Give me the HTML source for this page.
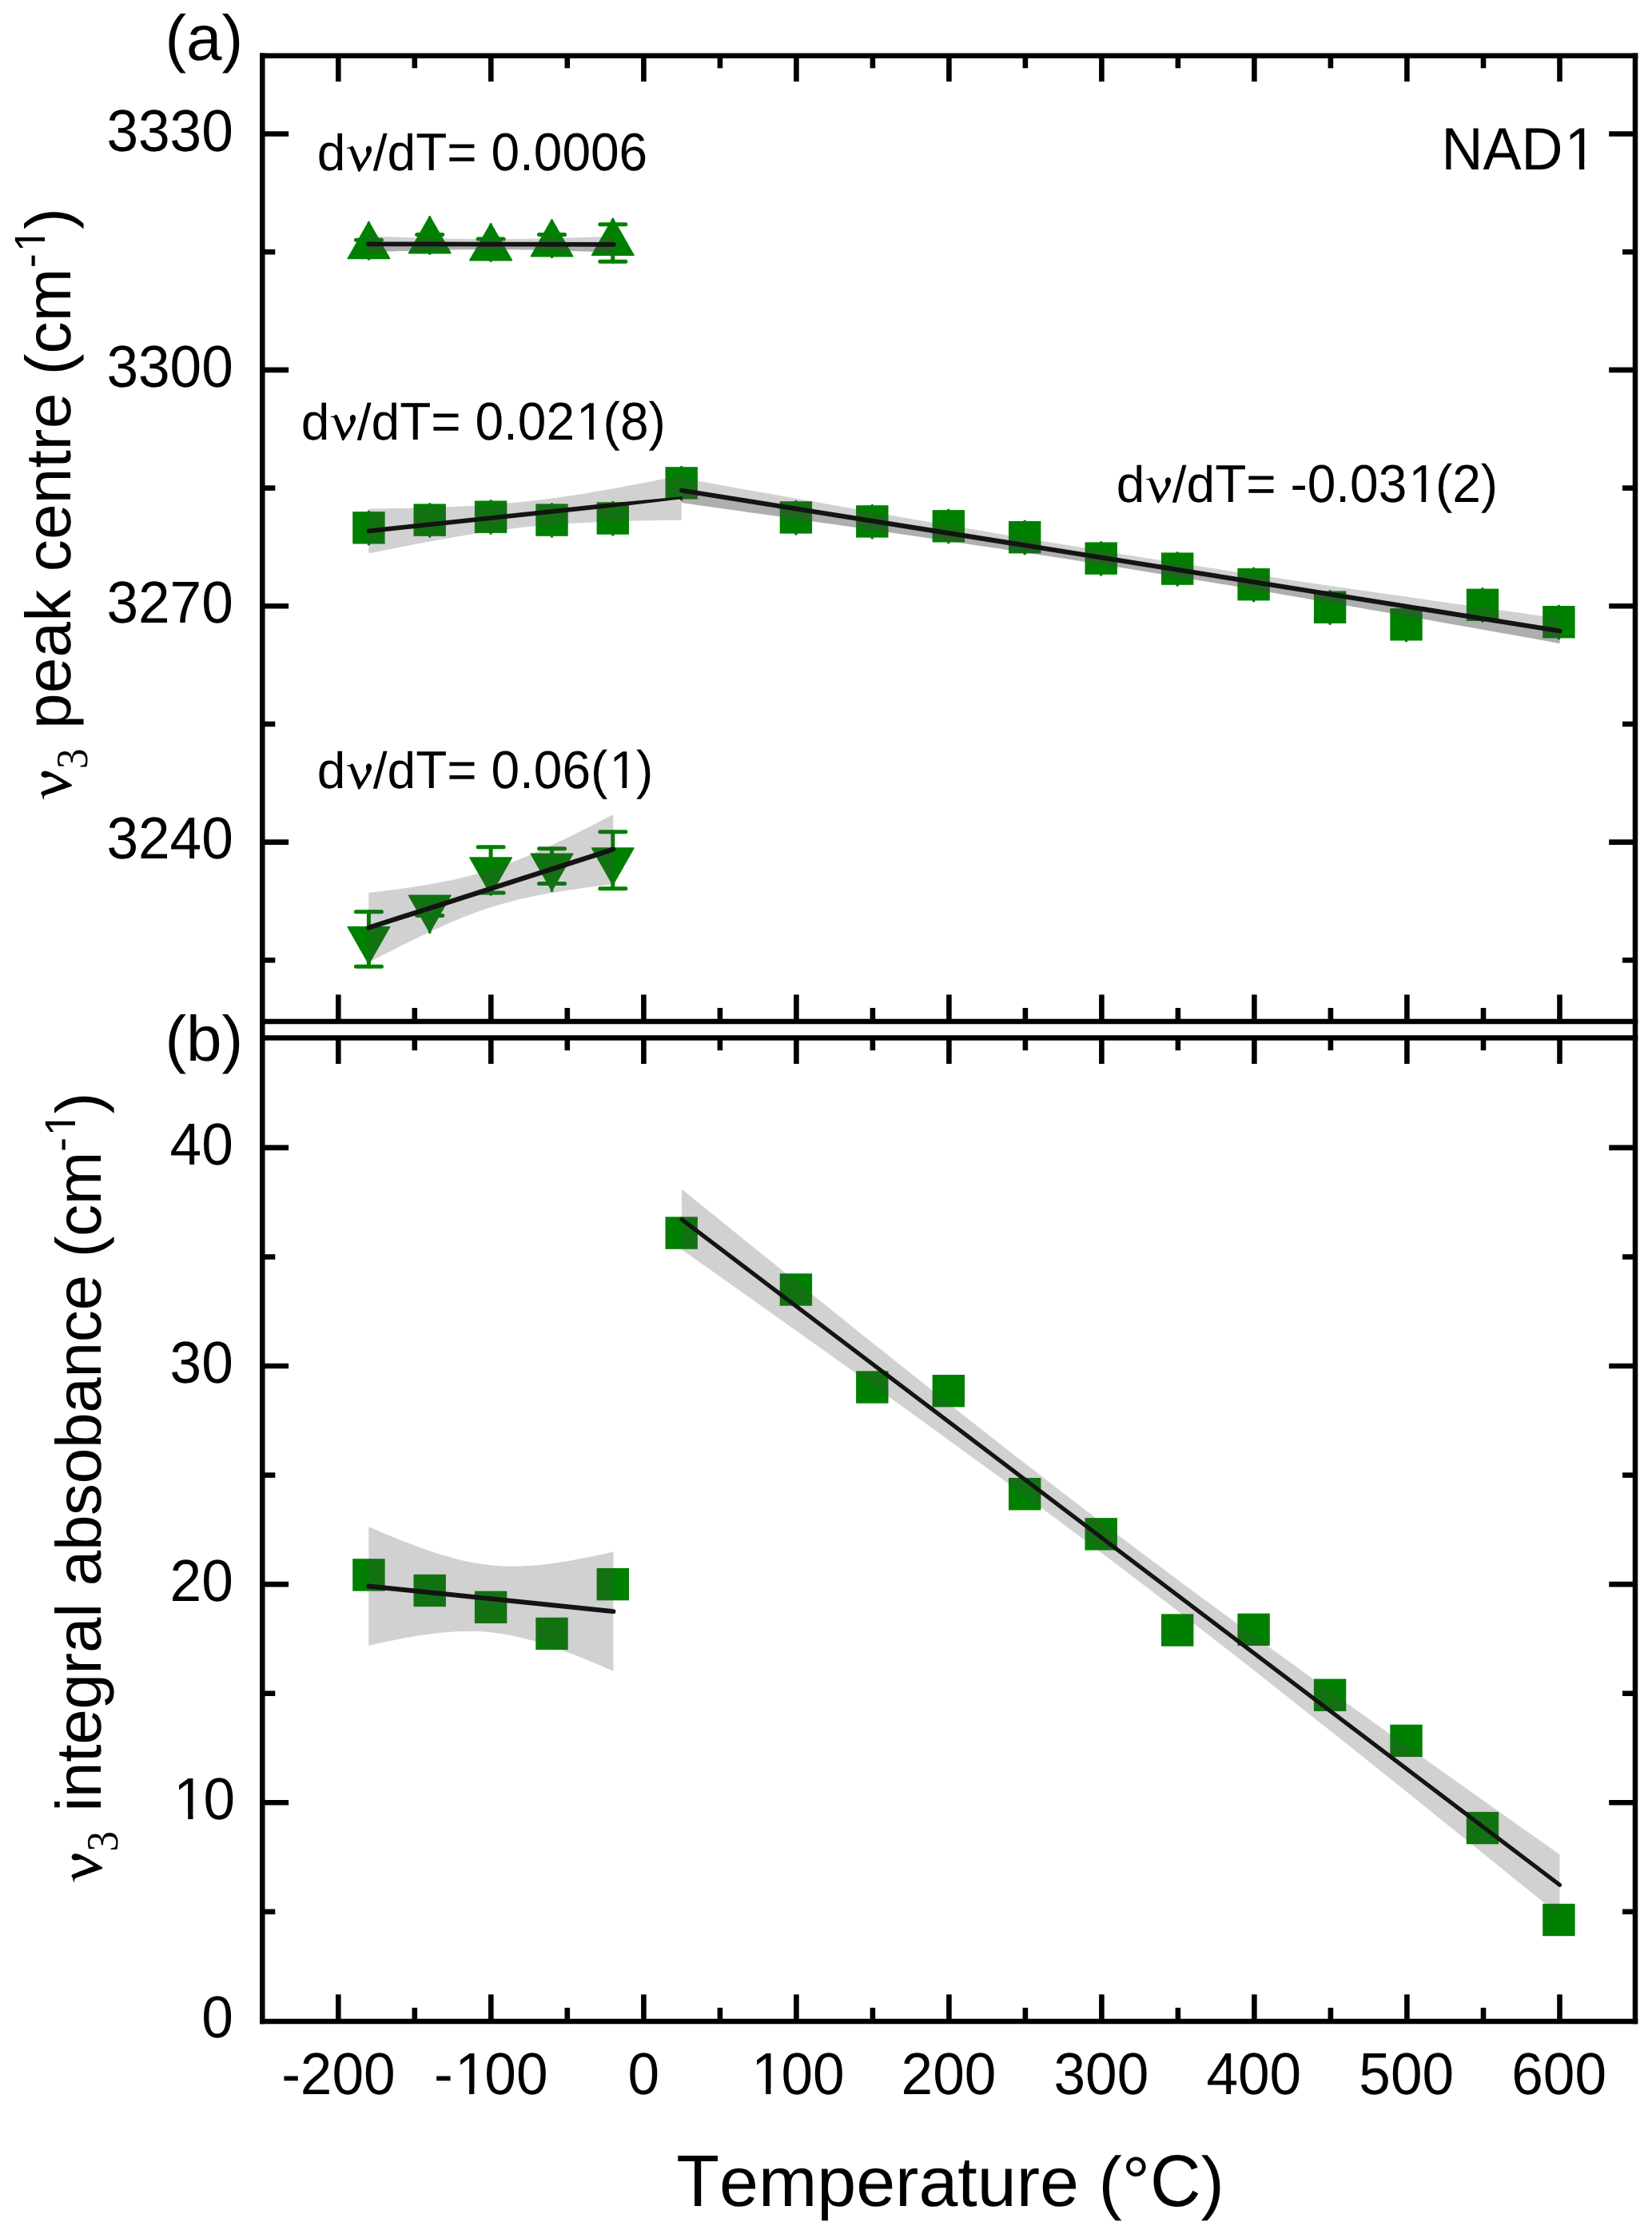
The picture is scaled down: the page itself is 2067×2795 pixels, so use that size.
<!DOCTYPE html>
<html><head><meta charset="utf-8"><title>NAD1</title>
<style>html,body{margin:0;padding:0;background:#fff}body{width:2067px;height:2795px;overflow:hidden;font-family:"Liberation Sans",sans-serif}</style></head>
<body>
<svg width="2067" height="2795" viewBox="0 0 2067 2795" style="display:block">
<rect x="0" y="0" width="2067" height="2795" fill="#ffffff"/>
<g id="markersA">
<g stroke="#008000" stroke-width="5.0" stroke-linecap="round" fill="none"><line x1="461.4" y1="300.3" x2="461.4" y2="315.9"/><line x1="445.4" y1="300.3" x2="477.4" y2="300.3"/><line x1="445.4" y1="315.9" x2="477.4" y2="315.9"/></g>
<line x1="461.4" y1="278.9" x2="461.4" y2="324.1" stroke="#008000" stroke-width="3.6" stroke-linecap="round"/>
<polygon points="461.4,277.3 487.7,323.5 435.1,323.5" fill="#008000" stroke="#008000" stroke-width="1.4" stroke-linejoin="round"/>
<g stroke="#008000" stroke-width="5.0" stroke-linecap="round" fill="none"><line x1="537.7" y1="293.5" x2="537.7" y2="309.1"/><line x1="521.7" y1="293.5" x2="553.7" y2="293.5"/><line x1="521.7" y1="309.1" x2="553.7" y2="309.1"/></g>
<line x1="537.7" y1="272.1" x2="537.7" y2="317.3" stroke="#008000" stroke-width="3.6" stroke-linecap="round"/>
<polygon points="537.7,270.5 564.0,316.7 511.4,316.7" fill="#008000" stroke="#008000" stroke-width="1.4" stroke-linejoin="round"/>
<g stroke="#008000" stroke-width="5.0" stroke-linecap="round" fill="none"><line x1="614.1" y1="299.0" x2="614.1" y2="321.6"/><line x1="598.1" y1="299.0" x2="630.1" y2="299.0"/><line x1="598.1" y1="321.6" x2="630.1" y2="321.6"/></g>
<line x1="614.1" y1="281.1" x2="614.1" y2="326.3" stroke="#008000" stroke-width="3.6" stroke-linecap="round"/>
<polygon points="614.1,279.5 640.4,325.7 587.8,325.7" fill="#008000" stroke="#008000" stroke-width="1.4" stroke-linejoin="round"/>
<g stroke="#008000" stroke-width="5.0" stroke-linecap="round" fill="none"><line x1="690.5" y1="293.5" x2="690.5" y2="317.3"/><line x1="674.5" y1="293.5" x2="706.5" y2="293.5"/><line x1="674.5" y1="317.3" x2="706.5" y2="317.3"/></g>
<line x1="690.5" y1="276.2" x2="690.5" y2="321.4" stroke="#008000" stroke-width="3.6" stroke-linecap="round"/>
<polygon points="690.5,274.6 716.8,320.8 664.2,320.8" fill="#008000" stroke="#008000" stroke-width="1.4" stroke-linejoin="round"/>
<g stroke="#008000" stroke-width="5.0" stroke-linecap="round" fill="none"><line x1="766.8" y1="280.7" x2="766.8" y2="327.3"/><line x1="750.8" y1="280.7" x2="782.8" y2="280.7"/><line x1="750.8" y1="327.3" x2="782.8" y2="327.3"/></g>
<line x1="766.8" y1="274.8" x2="766.8" y2="320.0" stroke="#008000" stroke-width="3.6" stroke-linecap="round"/>
<polygon points="766.8,273.2 793.1,319.4 740.5,319.4" fill="#008000" stroke="#008000" stroke-width="1.4" stroke-linejoin="round"/>
<line x1="461.4" y1="640.4" x2="461.4" y2="680.8" stroke="#008000" stroke-width="3.6" stroke-linecap="round"/>
<rect x="441.2" y="640.1" width="40.4" height="40.4" fill="#008000"/>
<line x1="537.7" y1="630.7" x2="537.7" y2="671.1" stroke="#008000" stroke-width="3.6" stroke-linecap="round"/>
<rect x="517.5" y="630.4" width="40.4" height="40.4" fill="#008000"/>
<line x1="614.1" y1="626.8" x2="614.1" y2="667.2" stroke="#008000" stroke-width="3.6" stroke-linecap="round"/>
<rect x="593.9" y="626.5" width="40.4" height="40.4" fill="#008000"/>
<line x1="690.5" y1="630.7" x2="690.5" y2="671.1" stroke="#008000" stroke-width="3.6" stroke-linecap="round"/>
<rect x="670.3" y="630.4" width="40.4" height="40.4" fill="#008000"/>
<line x1="766.8" y1="628.6" x2="766.8" y2="669.0" stroke="#008000" stroke-width="3.6" stroke-linecap="round"/>
<rect x="746.6" y="628.3" width="40.4" height="40.4" fill="#008000"/>
<line x1="852.7" y1="584.5" x2="852.7" y2="624.9" stroke="#008000" stroke-width="3.6" stroke-linecap="round"/>
<rect x="832.5" y="584.2" width="40.4" height="40.4" fill="#008000"/>
<line x1="995.9" y1="627.5" x2="995.9" y2="667.9" stroke="#008000" stroke-width="3.6" stroke-linecap="round"/>
<rect x="975.7" y="627.2" width="40.4" height="40.4" fill="#008000"/>
<line x1="1091.3" y1="632.5" x2="1091.3" y2="672.9" stroke="#008000" stroke-width="3.6" stroke-linecap="round"/>
<rect x="1071.1" y="632.2" width="40.4" height="40.4" fill="#008000"/>
<line x1="1186.8" y1="638.4" x2="1186.8" y2="678.8" stroke="#008000" stroke-width="3.6" stroke-linecap="round"/>
<rect x="1166.6" y="638.1" width="40.4" height="40.4" fill="#008000"/>
<line x1="1282.2" y1="652.3" x2="1282.2" y2="692.7" stroke="#008000" stroke-width="3.6" stroke-linecap="round"/>
<rect x="1262.0" y="652.0" width="40.4" height="40.4" fill="#008000"/>
<line x1="1377.7" y1="678.7" x2="1377.7" y2="719.1" stroke="#008000" stroke-width="3.6" stroke-linecap="round"/>
<rect x="1357.5" y="678.4" width="40.4" height="40.4" fill="#008000"/>
<line x1="1473.2" y1="691.7" x2="1473.2" y2="732.1" stroke="#008000" stroke-width="3.6" stroke-linecap="round"/>
<rect x="1453.0" y="691.4" width="40.4" height="40.4" fill="#008000"/>
<line x1="1568.6" y1="711.3" x2="1568.6" y2="751.7" stroke="#008000" stroke-width="3.6" stroke-linecap="round"/>
<rect x="1548.4" y="711.0" width="40.4" height="40.4" fill="#008000"/>
<line x1="1664.1" y1="739.8" x2="1664.1" y2="780.2" stroke="#008000" stroke-width="3.6" stroke-linecap="round"/>
<rect x="1643.9" y="739.5" width="40.4" height="40.4" fill="#008000"/>
<line x1="1759.5" y1="761.4" x2="1759.5" y2="801.8" stroke="#008000" stroke-width="3.6" stroke-linecap="round"/>
<rect x="1739.3" y="761.1" width="40.4" height="40.4" fill="#008000"/>
<line x1="1855.0" y1="736.9" x2="1855.0" y2="777.3" stroke="#008000" stroke-width="3.6" stroke-linecap="round"/>
<rect x="1834.8" y="736.6" width="40.4" height="40.4" fill="#008000"/>
<line x1="1950.4" y1="758.3" x2="1950.4" y2="798.7" stroke="#008000" stroke-width="3.6" stroke-linecap="round"/>
<rect x="1930.2" y="758.0" width="40.4" height="40.4" fill="#008000"/>
<g stroke="#008000" stroke-width="5.0" stroke-linecap="round" fill="none"><line x1="461.4" y1="1140.8" x2="461.4" y2="1209.2"/><line x1="445.4" y1="1140.8" x2="477.4" y2="1140.8"/><line x1="445.4" y1="1209.2" x2="477.4" y2="1209.2"/></g>
<line x1="461.4" y1="1163.6" x2="461.4" y2="1205.8" stroke="#008000" stroke-width="3.6" stroke-linecap="round"/>
<polygon points="435.1,1159.6 487.7,1159.6 461.4,1205.8" fill="#008000" stroke="#008000" stroke-width="1.4" stroke-linejoin="round"/>
<g stroke="#008000" stroke-width="5.0" stroke-linecap="round" fill="none"><line x1="537.7" y1="1125.6" x2="537.7" y2="1145.6"/><line x1="521.7" y1="1125.6" x2="553.7" y2="1125.6"/><line x1="521.7" y1="1145.6" x2="553.7" y2="1145.6"/></g>
<line x1="537.7" y1="1124.2" x2="537.7" y2="1166.4" stroke="#008000" stroke-width="3.6" stroke-linecap="round"/>
<polygon points="511.4,1120.2 564.0,1120.2 537.7,1166.4" fill="#008000" stroke="#008000" stroke-width="1.4" stroke-linejoin="round"/>
<g stroke="#008000" stroke-width="5.0" stroke-linecap="round" fill="none"><line x1="614.1" y1="1059.7" x2="614.1" y2="1116.9"/><line x1="598.1" y1="1059.7" x2="630.1" y2="1059.7"/><line x1="598.1" y1="1116.9" x2="630.1" y2="1116.9"/></g>
<line x1="614.1" y1="1076.9" x2="614.1" y2="1119.1" stroke="#008000" stroke-width="3.6" stroke-linecap="round"/>
<polygon points="587.8,1072.9 640.4,1072.9 614.1,1119.1" fill="#008000" stroke="#008000" stroke-width="1.4" stroke-linejoin="round"/>
<g stroke="#008000" stroke-width="5.0" stroke-linecap="round" fill="none"><line x1="690.5" y1="1061.8" x2="690.5" y2="1105.4"/><line x1="674.5" y1="1061.8" x2="706.5" y2="1061.8"/><line x1="674.5" y1="1105.4" x2="706.5" y2="1105.4"/></g>
<line x1="690.5" y1="1072.2" x2="690.5" y2="1114.4" stroke="#008000" stroke-width="3.6" stroke-linecap="round"/>
<polygon points="664.2,1068.2 716.8,1068.2 690.5,1114.4" fill="#008000" stroke="#008000" stroke-width="1.4" stroke-linejoin="round"/>
<g stroke="#008000" stroke-width="5.0" stroke-linecap="round" fill="none"><line x1="766.8" y1="1040.8" x2="766.8" y2="1111.8"/><line x1="750.8" y1="1040.8" x2="782.8" y2="1040.8"/><line x1="750.8" y1="1111.8" x2="782.8" y2="1111.8"/></g>
<line x1="766.8" y1="1064.9" x2="766.8" y2="1107.1" stroke="#008000" stroke-width="3.6" stroke-linecap="round"/>
<polygon points="740.5,1060.9 793.1,1060.9 766.8,1107.1" fill="#008000" stroke="#008000" stroke-width="1.4" stroke-linejoin="round"/>
</g>
<g id="markersB">
<rect x="441.2" y="1950.2" width="40.4" height="40.4" fill="#008000"/>
<rect x="517.5" y="1969.8" width="40.4" height="40.4" fill="#008000"/>
<rect x="593.9" y="1990.6" width="40.4" height="40.4" fill="#008000"/>
<rect x="670.3" y="2023.7" width="40.4" height="40.4" fill="#008000"/>
<rect x="746.6" y="1961.9" width="40.4" height="40.4" fill="#008000"/>
<rect x="832.5" y="1522.4" width="40.4" height="40.4" fill="#008000"/>
<rect x="975.7" y="1593.3" width="40.4" height="40.4" fill="#008000"/>
<rect x="1071.1" y="1715.3" width="40.4" height="40.4" fill="#008000"/>
<rect x="1166.6" y="1720.0" width="40.4" height="40.4" fill="#008000"/>
<rect x="1262.0" y="1849.0" width="40.4" height="40.4" fill="#008000"/>
<rect x="1357.5" y="1899.1" width="40.4" height="40.4" fill="#008000"/>
<rect x="1453.0" y="2019.3" width="40.4" height="40.4" fill="#008000"/>
<rect x="1548.4" y="2018.6" width="40.4" height="40.4" fill="#008000"/>
<rect x="1643.9" y="2100.5" width="40.4" height="40.4" fill="#008000"/>
<rect x="1739.3" y="2157.7" width="40.4" height="40.4" fill="#008000"/>
<rect x="1834.8" y="2266.9" width="40.4" height="40.4" fill="#008000"/>
<rect x="1930.2" y="2381.8" width="40.4" height="40.4" fill="#008000"/>
</g>
<g id="bands">
<polygon points="461.0,295.4 468.7,295.7 476.4,296.0 484.0,296.2 491.7,296.5 499.4,296.8 507.1,297.0 514.7,297.3 522.4,297.5 530.1,297.8 537.8,298.0 545.4,298.2 553.1,298.3 560.8,298.5 568.5,298.7 576.1,298.8 583.8,298.9 591.5,299.0 599.1,299.0 606.8,299.1 614.5,299.1 622.2,299.1 629.9,299.1 637.5,299.0 645.2,299.0 652.9,298.9 660.5,298.8 668.2,298.6 675.9,298.5 683.6,298.3 691.2,298.1 698.9,297.9 706.6,297.7 714.3,297.5 722.0,297.3 729.6,297.1 737.3,296.8 745.0,296.5 752.6,296.3 760.3,296.0 768.0,295.7 768.0,315.9 760.3,315.6 752.6,315.3 745.0,315.0 737.3,314.7 729.6,314.4 722.0,314.2 714.3,313.9 706.6,313.7 698.9,313.5 691.2,313.3 683.6,313.1 675.9,312.9 668.2,312.7 660.5,312.6 652.9,312.4 645.2,312.3 637.5,312.2 629.9,312.2 622.2,312.1 614.5,312.1 606.8,312.1 599.1,312.1 591.5,312.2 583.8,312.2 576.1,312.3 568.5,312.4 560.8,312.6 553.1,312.7 545.4,312.9 537.8,313.0 530.1,313.2 522.4,313.4 514.7,313.6 507.1,313.9 499.4,314.1 491.7,314.4 484.0,314.6 476.4,314.9 468.7,315.2 461.0,315.4" fill="rgba(70,70,70,0.25)"/>
<polygon points="461.0,305.4 468.7,305.4 476.4,305.4 484.0,305.4 491.7,305.4 499.4,305.4 507.1,305.5 514.7,305.5 522.4,305.5 530.1,305.5 537.8,305.5 545.4,305.5 553.1,305.5 560.8,305.5 568.5,305.5 576.1,305.6 583.8,305.6 591.5,305.6 599.1,305.6 606.8,305.6 614.5,305.6 622.2,305.6 629.9,305.6 637.5,305.6 645.2,305.6 652.9,305.6 660.5,305.7 668.2,305.7 675.9,305.7 683.6,305.7 691.2,305.7 698.9,305.7 706.6,305.7 714.3,305.7 722.0,305.7 729.6,305.8 737.3,305.8 745.0,305.8 752.6,305.8 760.3,305.8 768.0,305.8 768.0,315.9 760.3,315.6 752.6,315.3 745.0,315.0 737.3,314.7 729.6,314.4 722.0,314.2 714.3,313.9 706.6,313.7 698.9,313.5 691.2,313.3 683.6,313.1 675.9,312.9 668.2,312.7 660.5,312.6 652.9,312.4 645.2,312.3 637.5,312.2 629.9,312.2 622.2,312.1 614.5,312.1 606.8,312.1 599.1,312.1 591.5,312.2 583.8,312.2 576.1,312.3 568.5,312.4 560.8,312.6 553.1,312.7 545.4,312.9 537.8,313.0 530.1,313.2 522.4,313.4 514.7,313.6 507.1,313.9 499.4,314.1 491.7,314.4 484.0,314.6 476.4,314.9 468.7,315.2 461.0,315.4" fill="rgba(70,70,70,0.25)"/>
<polygon points="461.3,636.4 471.1,636.3 480.9,636.2 490.7,636.1 500.4,635.9 510.2,635.7 520.0,635.5 529.8,635.2 539.6,635.0 549.4,634.6 559.1,634.3 568.9,633.9 578.7,633.4 588.5,632.9 598.3,632.4 608.1,631.8 617.9,631.1 627.6,630.3 637.4,629.5 647.2,628.6 657.0,627.6 666.8,626.5 676.6,625.3 686.4,624.1 696.1,622.7 705.9,621.3 715.7,619.9 725.5,618.4 735.3,616.8 745.1,615.1 754.9,613.4 764.6,611.7 774.4,609.9 784.2,608.1 794.0,606.3 803.8,604.4 813.6,602.5 823.3,600.6 833.1,598.7 842.9,596.7 852.7,594.7 852.7,650.7 842.9,650.8 833.1,650.9 823.3,651.0 813.6,651.2 803.8,651.4 794.0,651.6 784.2,651.9 774.4,652.1 764.6,652.5 754.9,652.8 745.1,653.2 735.3,653.7 725.5,654.2 715.7,654.7 705.9,655.3 696.1,656.0 686.4,656.8 676.6,657.6 666.8,658.5 657.0,659.6 647.2,660.6 637.4,661.8 627.6,663.0 617.9,664.4 608.1,665.8 598.3,667.2 588.5,668.7 578.7,670.3 568.9,672.0 559.1,673.7 549.4,675.4 539.6,677.2 529.8,679.0 520.0,680.8 510.2,682.7 500.4,684.6 490.7,686.5 480.9,688.4 471.1,690.4 461.3,692.4" fill="rgba(70,70,70,0.25)"/>
<polygon points="853.0,598.1 880.5,603.0 907.9,608.0 935.4,612.9 962.9,617.8 990.3,622.7 1017.8,627.5 1045.2,632.4 1072.7,637.3 1100.2,642.1 1127.6,646.9 1155.1,651.7 1182.5,656.4 1210.0,661.1 1237.5,665.8 1264.9,670.4 1292.4,675.0 1319.9,679.6 1347.3,684.1 1374.8,688.6 1402.2,693.0 1429.7,697.4 1457.2,701.7 1484.6,706.0 1512.1,710.2 1539.6,714.4 1567.0,718.5 1594.5,722.6 1622.0,726.7 1649.4,730.7 1676.9,734.7 1704.3,738.7 1731.8,742.7 1759.3,746.6 1786.7,750.5 1814.2,754.4 1841.7,758.3 1869.1,762.2 1896.6,766.1 1924.0,770.0 1951.5,773.8 1951.5,805.0 1924.0,800.1 1896.6,795.1 1869.1,790.2 1841.7,785.3 1814.2,780.4 1786.7,775.5 1759.3,770.7 1731.8,765.8 1704.3,761.0 1676.9,756.2 1649.4,751.4 1622.0,746.7 1594.5,741.9 1567.0,737.2 1539.6,732.6 1512.1,728.0 1484.6,723.4 1457.2,718.9 1429.7,714.4 1402.2,710.0 1374.8,705.6 1347.3,701.3 1319.9,697.0 1292.4,692.8 1264.9,688.6 1237.5,684.5 1210.0,680.4 1182.5,676.3 1155.1,672.2 1127.6,668.2 1100.2,664.2 1072.7,660.3 1045.2,656.3 1017.8,652.4 990.3,648.5 962.9,644.6 935.4,640.7 907.9,636.8 880.5,633.0 853.0,629.1" fill="rgba(70,70,70,0.25)"/>
<polygon points="853.0,613.6 880.5,618.0 907.9,622.4 935.4,626.8 962.9,631.2 990.3,635.6 1017.8,640.0 1045.2,644.4 1072.7,648.8 1100.2,653.2 1127.6,657.5 1155.1,661.9 1182.5,666.3 1210.0,670.7 1237.5,675.1 1264.9,679.5 1292.4,683.9 1319.9,688.3 1347.3,692.7 1374.8,697.1 1402.2,701.5 1429.7,705.9 1457.2,710.3 1484.6,714.7 1512.1,719.1 1539.6,723.5 1567.0,727.9 1594.5,732.3 1622.0,736.7 1649.4,741.1 1676.9,745.5 1704.3,749.8 1731.8,754.2 1759.3,758.6 1786.7,763.0 1814.2,767.4 1841.7,771.8 1869.1,776.2 1896.6,780.6 1924.0,785.0 1951.5,789.4 1951.5,805.0 1924.0,800.1 1896.6,795.1 1869.1,790.2 1841.7,785.3 1814.2,780.4 1786.7,775.5 1759.3,770.7 1731.8,765.8 1704.3,761.0 1676.9,756.2 1649.4,751.4 1622.0,746.7 1594.5,741.9 1567.0,737.2 1539.6,732.6 1512.1,728.0 1484.6,723.4 1457.2,718.9 1429.7,714.4 1402.2,710.0 1374.8,705.6 1347.3,701.3 1319.9,697.0 1292.4,692.8 1264.9,688.6 1237.5,684.5 1210.0,680.4 1182.5,676.3 1155.1,672.2 1127.6,668.2 1100.2,664.2 1072.7,660.3 1045.2,656.3 1017.8,652.4 990.3,648.5 962.9,644.6 935.4,640.7 907.9,636.8 880.5,633.0 853.0,629.1" fill="rgba(70,70,70,0.25)"/>
<polygon points="461.3,1117.1 468.9,1116.1 476.6,1115.2 484.2,1114.2 491.9,1113.2 499.6,1112.2 507.2,1111.1 514.9,1110.0 522.5,1108.8 530.1,1107.6 537.8,1106.3 545.5,1105.0 553.1,1103.5 560.8,1102.0 568.4,1100.4 576.0,1098.6 583.7,1096.8 591.4,1094.8 599.0,1092.7 606.6,1090.5 614.3,1088.1 622.0,1085.6 629.6,1082.9 637.2,1080.1 644.9,1077.2 652.5,1074.1 660.2,1070.9 667.8,1067.6 675.5,1064.2 683.1,1060.8 690.8,1057.2 698.4,1053.6 706.1,1049.9 713.8,1046.2 721.4,1042.4 729.0,1038.6 736.7,1034.7 744.3,1030.8 752.0,1026.9 759.6,1022.9 767.3,1018.9 767.3,1106.3 759.6,1107.2 752.0,1108.1 744.3,1109.1 736.7,1110.1 729.0,1111.1 721.4,1112.2 713.8,1113.3 706.1,1114.5 698.4,1115.7 690.8,1117.0 683.1,1118.3 675.5,1119.8 667.8,1121.3 660.2,1122.9 652.5,1124.6 644.9,1126.4 637.2,1128.4 629.6,1130.5 622.0,1132.7 614.3,1135.1 606.6,1137.6 599.0,1140.3 591.4,1143.1 583.7,1146.0 576.0,1149.1 568.4,1152.2 560.8,1155.5 553.1,1158.9 545.5,1162.3 537.8,1165.9 530.1,1169.5 522.5,1173.2 514.9,1176.9 507.2,1180.7 499.6,1184.5 491.9,1188.4 484.2,1192.3 476.6,1196.2 468.9,1200.2 461.3,1204.1" fill="rgba(70,70,70,0.25)"/>
<polygon points="461.3,1910.1 469.0,1913.4 476.6,1916.7 484.3,1919.9 491.9,1923.1 499.6,1926.2 507.2,1929.2 514.9,1932.1 522.5,1935.0 530.2,1937.8 537.9,1940.4 545.5,1943.0 553.2,1945.4 560.8,1947.6 568.5,1949.7 576.1,1951.7 583.8,1953.4 591.4,1955.0 599.1,1956.3 606.7,1957.4 614.4,1958.3 622.1,1959.0 629.7,1959.4 637.4,1959.6 645.0,1959.6 652.7,1959.5 660.3,1959.1 668.0,1958.6 675.6,1957.9 683.3,1957.0 691.0,1956.0 698.6,1954.9 706.3,1953.7 713.9,1952.5 721.6,1951.1 729.2,1949.6 736.9,1948.1 744.5,1946.5 752.2,1944.9 759.8,1943.2 767.5,1941.5 767.5,2090.7 759.8,2087.4 752.2,2084.2 744.5,2080.9 736.9,2077.8 729.2,2074.7 721.6,2071.6 713.9,2068.7 706.3,2065.8 698.6,2063.0 691.0,2060.4 683.3,2057.8 675.6,2055.4 668.0,2053.1 660.3,2051.0 652.7,2049.0 645.0,2047.3 637.4,2045.7 629.7,2044.4 622.1,2043.2 614.4,2042.3 606.7,2041.6 599.1,2041.1 591.4,2040.9 583.8,2040.9 576.1,2041.0 568.5,2041.4 560.8,2041.9 553.2,2042.6 545.5,2043.4 537.9,2044.4 530.2,2045.5 522.5,2046.6 514.9,2047.9 507.2,2049.3 499.6,2050.7 491.9,2052.3 484.3,2053.8 476.6,2055.5 469.0,2057.1 461.3,2058.9" fill="rgba(70,70,70,0.25)"/>
<polygon points="853.0,1487.8 880.5,1510.0 907.9,1532.2 935.4,1554.4 962.9,1576.6 990.3,1598.7 1017.8,1620.8 1045.2,1642.8 1072.7,1664.9 1100.2,1686.8 1127.6,1708.7 1155.1,1730.6 1182.5,1752.4 1210.0,1774.1 1237.5,1795.7 1264.9,1817.2 1292.4,1838.6 1319.9,1859.9 1347.3,1881.1 1374.8,1902.1 1402.2,1922.9 1429.7,1943.7 1457.2,1964.3 1484.6,1984.7 1512.1,2005.1 1539.6,2025.3 1567.0,2045.4 1594.5,2065.4 1622.0,2085.3 1649.4,2105.2 1676.9,2124.9 1704.3,2144.6 1731.8,2164.3 1759.3,2183.9 1786.7,2203.5 1814.2,2223.0 1841.7,2242.5 1869.1,2262.0 1896.6,2281.4 1924.0,2300.8 1951.5,2320.2 1951.5,2396.4 1924.0,2374.1 1896.6,2351.9 1869.1,2329.7 1841.7,2307.6 1814.2,2285.4 1786.7,2263.3 1759.3,2241.3 1731.8,2219.2 1704.3,2197.3 1676.9,2175.3 1649.4,2153.5 1622.0,2131.7 1594.5,2109.9 1567.0,2088.3 1539.6,2066.8 1512.1,2045.4 1484.6,2024.1 1457.2,2002.9 1429.7,1981.9 1402.2,1961.0 1374.8,1940.2 1347.3,1919.6 1319.9,1899.1 1292.4,1878.7 1264.9,1858.5 1237.5,1838.4 1210.0,1818.4 1182.5,1798.4 1155.1,1778.6 1127.6,1758.8 1100.2,1739.1 1072.7,1719.4 1045.2,1699.8 1017.8,1680.2 990.3,1660.7 962.9,1641.2 935.4,1621.7 907.9,1602.3 880.5,1582.8 853.0,1563.4" fill="rgba(70,70,70,0.25)"/>
</g>
<g id="fits" stroke="#141414" stroke-linecap="round" fill="none">
<line x1="461.0" y1="305.4" x2="768.0" y2="305.8" stroke-width="5.8"/>
<line x1="461.3" y1="664.4" x2="755.0" y2="633.1" stroke-width="5.7" stroke-linecap="round"/>
<polygon points="755.0,630.3 852.7,621.2 852.7,624.2 755.0,636.0" fill="#141414" stroke="none"/>
<circle cx="852.7" cy="622.7" r="1.5" fill="#141414" stroke="none"/>
<line x1="853.0" y1="613.6" x2="1951.5" y2="789.4" stroke-width="6.0"/>
<line x1="461.3" y1="1160.6" x2="767.3" y2="1062.6" stroke-width="6.2"/>
<line x1="461.3" y1="1984.5" x2="767.5" y2="2016.1" stroke-width="5.9"/>
<line x1="853.0" y1="1525.6" x2="1951.5" y2="2358.3" stroke-width="5.2"/>
</g>
<g id="axes" stroke="#000" stroke-width="6.5" fill="none" stroke-linecap="butt">
<line x1="328.3" y1="66.45" x2="328.3" y2="2532.15"/>
<line x1="2046.0" y1="66.45" x2="2046.0" y2="2532.15"/>
<line x1="325.05" y1="69.7" x2="2049.25" y2="69.7"/>
<line x1="325.05" y1="1278.0" x2="2049.25" y2="1278.0"/>
<line x1="325.05" y1="1298.6" x2="2049.25" y2="1298.6"/>
<line x1="325.05" y1="2528.9" x2="2049.25" y2="2528.9"/>
</g>
<g id="ticks" stroke="#000" stroke-width="6.6" fill="none">
<line x1="423.3" y1="69.7" x2="423.3" y2="102.1"/>
<line x1="423.3" y1="1278.0" x2="423.3" y2="1244.4"/>
<line x1="423.3" y1="1298.6" x2="423.3" y2="1331.0"/>
<line x1="423.3" y1="2528.9" x2="423.3" y2="2495.3"/>
<line x1="518.8" y1="69.7" x2="518.8" y2="85.3"/>
<line x1="518.8" y1="1278.0" x2="518.8" y2="1261.0"/>
<line x1="518.8" y1="1298.6" x2="518.8" y2="1314.2"/>
<line x1="518.8" y1="2528.9" x2="518.8" y2="2511.9"/>
<line x1="614.3" y1="69.7" x2="614.3" y2="102.1"/>
<line x1="614.3" y1="1278.0" x2="614.3" y2="1244.4"/>
<line x1="614.3" y1="1298.6" x2="614.3" y2="1331.0"/>
<line x1="614.3" y1="2528.9" x2="614.3" y2="2495.3"/>
<line x1="709.8" y1="69.7" x2="709.8" y2="85.3"/>
<line x1="709.8" y1="1278.0" x2="709.8" y2="1261.0"/>
<line x1="709.8" y1="1298.6" x2="709.8" y2="1314.2"/>
<line x1="709.8" y1="2528.9" x2="709.8" y2="2511.9"/>
<line x1="805.4" y1="69.7" x2="805.4" y2="102.1"/>
<line x1="805.4" y1="1278.0" x2="805.4" y2="1244.4"/>
<line x1="805.4" y1="1298.6" x2="805.4" y2="1331.0"/>
<line x1="805.4" y1="2528.9" x2="805.4" y2="2495.3"/>
<line x1="900.9" y1="69.7" x2="900.9" y2="85.3"/>
<line x1="900.9" y1="1278.0" x2="900.9" y2="1261.0"/>
<line x1="900.9" y1="1298.6" x2="900.9" y2="1314.2"/>
<line x1="900.9" y1="2528.9" x2="900.9" y2="2511.9"/>
<line x1="996.4" y1="69.7" x2="996.4" y2="102.1"/>
<line x1="996.4" y1="1278.0" x2="996.4" y2="1244.4"/>
<line x1="996.4" y1="1298.6" x2="996.4" y2="1331.0"/>
<line x1="996.4" y1="2528.9" x2="996.4" y2="2495.3"/>
<line x1="1091.9" y1="69.7" x2="1091.9" y2="85.3"/>
<line x1="1091.9" y1="1278.0" x2="1091.9" y2="1261.0"/>
<line x1="1091.9" y1="1298.6" x2="1091.9" y2="1314.2"/>
<line x1="1091.9" y1="2528.9" x2="1091.9" y2="2511.9"/>
<line x1="1187.4" y1="69.7" x2="1187.4" y2="102.1"/>
<line x1="1187.4" y1="1278.0" x2="1187.4" y2="1244.4"/>
<line x1="1187.4" y1="1298.6" x2="1187.4" y2="1331.0"/>
<line x1="1187.4" y1="2528.9" x2="1187.4" y2="2495.3"/>
<line x1="1282.9" y1="69.7" x2="1282.9" y2="85.3"/>
<line x1="1282.9" y1="1278.0" x2="1282.9" y2="1261.0"/>
<line x1="1282.9" y1="1298.6" x2="1282.9" y2="1314.2"/>
<line x1="1282.9" y1="2528.9" x2="1282.9" y2="2511.9"/>
<line x1="1378.4" y1="69.7" x2="1378.4" y2="102.1"/>
<line x1="1378.4" y1="1278.0" x2="1378.4" y2="1244.4"/>
<line x1="1378.4" y1="1298.6" x2="1378.4" y2="1331.0"/>
<line x1="1378.4" y1="2528.9" x2="1378.4" y2="2495.3"/>
<line x1="1473.9" y1="69.7" x2="1473.9" y2="85.3"/>
<line x1="1473.9" y1="1278.0" x2="1473.9" y2="1261.0"/>
<line x1="1473.9" y1="1298.6" x2="1473.9" y2="1314.2"/>
<line x1="1473.9" y1="2528.9" x2="1473.9" y2="2511.9"/>
<line x1="1569.4" y1="69.7" x2="1569.4" y2="102.1"/>
<line x1="1569.4" y1="1278.0" x2="1569.4" y2="1244.4"/>
<line x1="1569.4" y1="1298.6" x2="1569.4" y2="1331.0"/>
<line x1="1569.4" y1="2528.9" x2="1569.4" y2="2495.3"/>
<line x1="1664.9" y1="69.7" x2="1664.9" y2="85.3"/>
<line x1="1664.9" y1="1278.0" x2="1664.9" y2="1261.0"/>
<line x1="1664.9" y1="1298.6" x2="1664.9" y2="1314.2"/>
<line x1="1664.9" y1="2528.9" x2="1664.9" y2="2511.9"/>
<line x1="1760.4" y1="69.7" x2="1760.4" y2="102.1"/>
<line x1="1760.4" y1="1278.0" x2="1760.4" y2="1244.4"/>
<line x1="1760.4" y1="1298.6" x2="1760.4" y2="1331.0"/>
<line x1="1760.4" y1="2528.9" x2="1760.4" y2="2495.3"/>
<line x1="1856.0" y1="69.7" x2="1856.0" y2="85.3"/>
<line x1="1856.0" y1="1278.0" x2="1856.0" y2="1261.0"/>
<line x1="1856.0" y1="1298.6" x2="1856.0" y2="1314.2"/>
<line x1="1856.0" y1="2528.9" x2="1856.0" y2="2511.9"/>
<line x1="1951.5" y1="69.7" x2="1951.5" y2="102.1"/>
<line x1="1951.5" y1="1278.0" x2="1951.5" y2="1244.4"/>
<line x1="1951.5" y1="1298.6" x2="1951.5" y2="1331.0"/>
<line x1="1951.5" y1="2528.9" x2="1951.5" y2="2495.3"/>
<line x1="328.3" y1="1201.3" x2="344.3" y2="1201.3"/>
<line x1="2046.0" y1="1201.3" x2="2030.0" y2="1201.3"/>
<line x1="328.3" y1="1053.6" x2="361.1" y2="1053.6"/>
<line x1="2046.0" y1="1053.6" x2="2013.2" y2="1053.6"/>
<line x1="328.3" y1="905.9" x2="344.3" y2="905.9"/>
<line x1="2046.0" y1="905.9" x2="2030.0" y2="905.9"/>
<line x1="328.3" y1="758.2" x2="361.1" y2="758.2"/>
<line x1="2046.0" y1="758.2" x2="2013.2" y2="758.2"/>
<line x1="328.3" y1="610.6" x2="344.3" y2="610.6"/>
<line x1="2046.0" y1="610.6" x2="2030.0" y2="610.6"/>
<line x1="328.3" y1="462.9" x2="361.1" y2="462.9"/>
<line x1="2046.0" y1="462.9" x2="2013.2" y2="462.9"/>
<line x1="328.3" y1="315.2" x2="344.3" y2="315.2"/>
<line x1="2046.0" y1="315.2" x2="2030.0" y2="315.2"/>
<line x1="328.3" y1="167.5" x2="361.1" y2="167.5"/>
<line x1="2046.0" y1="167.5" x2="2013.2" y2="167.5"/>
<line x1="328.3" y1="2391.8" x2="344.3" y2="2391.8"/>
<line x1="2046.0" y1="2391.8" x2="2030.0" y2="2391.8"/>
<line x1="328.3" y1="2255.2" x2="361.1" y2="2255.2"/>
<line x1="2046.0" y1="2255.2" x2="2013.2" y2="2255.2"/>
<line x1="328.3" y1="2118.7" x2="344.3" y2="2118.7"/>
<line x1="2046.0" y1="2118.7" x2="2030.0" y2="2118.7"/>
<line x1="328.3" y1="1982.1" x2="361.1" y2="1982.1"/>
<line x1="2046.0" y1="1982.1" x2="2013.2" y2="1982.1"/>
<line x1="328.3" y1="1845.6" x2="344.3" y2="1845.6"/>
<line x1="2046.0" y1="1845.6" x2="2030.0" y2="1845.6"/>
<line x1="328.3" y1="1709.0" x2="361.1" y2="1709.0"/>
<line x1="2046.0" y1="1709.0" x2="2013.2" y2="1709.0"/>
<line x1="328.3" y1="1572.5" x2="344.3" y2="1572.5"/>
<line x1="2046.0" y1="1572.5" x2="2030.0" y2="1572.5"/>
<line x1="328.3" y1="1435.9" x2="361.1" y2="1435.9"/>
<line x1="2046.0" y1="1435.9" x2="2013.2" y2="1435.9"/>
</g>
<g id="text" font-family="'Liberation Sans', sans-serif" fill="#000" style="font-kerning:none;text-rendering:geometricPrecision">
<text transform="translate(291.8,188.6) scale(1,1.04)" font-size="71.2" text-anchor="end">3330</text>
<text transform="translate(291.8,483.6) scale(1,1.04)" font-size="71.2" text-anchor="end">3300</text>
<text transform="translate(291.8,778.5) scale(1,1.04)" font-size="71.2" text-anchor="end">3270</text>
<text transform="translate(291.8,1073.5) scale(1,1.04)" font-size="71.2" text-anchor="end">3240</text>
<text transform="translate(291.8,2548.8) scale(1,1.04)" font-size="71.2" text-anchor="end">0</text>
<text transform="translate(291.8,2275.8) scale(1,1.04)" font-size="71.2" text-anchor="end"><tspan dx="2.36">1</tspan><tspan dx="-2.36">0</tspan></text>
<rect transform="translate(291.8,2275.8) scale(1,1.04)" x="-70.34" y="-6.62" width="13.78" height="7.92" fill="#fff"/><rect transform="translate(291.8,2275.8) scale(1,1.04)" x="-50.27" y="-6.62" width="13.22" height="7.92" fill="#fff"/>
<text transform="translate(291.8,2002.7) scale(1,1.04)" font-size="71.2" text-anchor="end">20</text>
<text transform="translate(291.8,1729.7) scale(1,1.04)" font-size="71.2" text-anchor="end">30</text>
<text transform="translate(291.8,1456.6) scale(1,1.04)" font-size="71.2" text-anchor="end">40</text>
<text transform="translate(423.4,2620.2) scale(1,1.04)" font-size="71.2" text-anchor="middle">-200</text>
<text transform="translate(614.3,2620.2) scale(1,1.04)" font-size="71.2" text-anchor="middle">-<tspan dx="2.36">1</tspan><tspan dx="-2.36">0</tspan>0</text>
<rect transform="translate(614.3,2620.2) scale(1,1.04)" x="-41.05" y="-6.62" width="13.78" height="7.92" fill="#fff"/><rect transform="translate(614.3,2620.2) scale(1,1.04)" x="-20.97" y="-6.62" width="13.22" height="7.92" fill="#fff"/>
<text transform="translate(805.2,2620.2) scale(1,1.04)" font-size="71.2" text-anchor="middle">0</text>
<text transform="translate(996.1,2620.2) scale(1,1.04)" font-size="71.2" text-anchor="middle"><tspan dx="2.36">1</tspan><tspan dx="-2.36">0</tspan>0</text>
<rect transform="translate(996.1,2620.2) scale(1,1.04)" x="-51.73" y="-6.62" width="13.78" height="7.92" fill="#fff"/><rect transform="translate(996.1,2620.2) scale(1,1.04)" x="-31.65" y="-6.62" width="13.22" height="7.92" fill="#fff"/>
<text transform="translate(1187.0,2620.2) scale(1,1.04)" font-size="71.2" text-anchor="middle">200</text>
<text transform="translate(1377.9,2620.2) scale(1,1.04)" font-size="71.2" text-anchor="middle">300</text>
<text transform="translate(1568.8,2620.2) scale(1,1.04)" font-size="71.2" text-anchor="middle">400</text>
<text transform="translate(1759.7,2620.2) scale(1,1.04)" font-size="71.2" text-anchor="middle">500</text>
<text transform="translate(1950.6,2620.2) scale(1,1.04)" font-size="71.2" text-anchor="middle">600</text>
<text x="255.3" y="75.3" font-size="80" text-anchor="middle">(a)</text>
<text x="255.3" y="1327" font-size="80" text-anchor="middle">(b)</text>
<text transform="translate(846.22,2760.0) scale(1,1.04)" font-size="88">T</text>
<text x="899.97" y="2760.0" font-size="88">emperature (°</text>
<text transform="translate(1438.93,2760.0) scale(1,1.04)" font-size="88">C</text>
<text x="1502.48" y="2760.0" font-size="88">)</text>
<text x="396.8" y="213.2" font-size="64">d</text>
<path transform="translate(433.4,213.2)" d="M0.00,-27.72C0.00,-27.72 0.80,-28.23 1.31,-28.45C1.82,-28.66 2.42,-28.88 3.05,-29.03C3.68,-29.17 4.62,-29.15 5.08,-29.32C5.54,-29.49 5.57,-29.86 5.81,-30.04C6.05,-30.22 6.13,-30.34 6.54,-30.39C6.95,-30.44 8.28,-30.33 8.28,-30.33C8.28,-30.33 8.96,-29.20 9.44,-28.15C9.93,-27.11 10.31,-26.22 11.19,-24.09C12.06,-21.96 13.55,-18.15 14.67,-15.37C15.80,-12.59 17.93,-7.38 17.93,-7.38C17.93,-7.38 19.09,-9.15 19.90,-10.43C20.72,-11.71 22.03,-13.82 22.81,-15.08C23.58,-16.34 24.13,-17.07 24.55,-17.99C24.98,-18.91 25.27,-19.78 25.37,-20.60C25.46,-21.42 25.25,-22.15 25.13,-22.92C25.01,-23.70 24.74,-24.57 24.64,-25.25C24.54,-25.93 24.47,-26.39 24.55,-26.99C24.63,-27.60 24.82,-28.37 25.13,-28.88C25.45,-29.39 25.96,-29.79 26.44,-30.04C26.92,-30.30 27.46,-30.41 28.04,-30.39C28.62,-30.38 29.39,-30.28 29.93,-29.96C30.46,-29.63 30.94,-29.04 31.23,-28.45C31.53,-27.85 31.67,-27.19 31.67,-26.41C31.67,-25.64 31.53,-24.81 31.23,-23.80C30.94,-22.78 30.56,-21.67 29.93,-20.31C29.30,-18.95 28.45,-17.40 27.46,-15.66C26.46,-13.92 25.23,-11.88 23.97,-9.85C22.71,-7.82 21.11,-5.35 19.90,-3.46C18.69,-1.57 16.71,1.48 16.71,1.48C16.71,1.48 15.54,1.63 15.54,1.63C15.54,1.63 15.25,2.04 14.82,1.05C14.38,0.05 13.63,-2.42 12.93,-4.33C12.23,-6.24 11.38,-8.40 10.61,-10.43C9.83,-12.46 8.96,-14.64 8.28,-16.53C7.60,-18.42 7.05,-20.31 6.54,-21.76C6.03,-23.22 5.59,-24.43 5.23,-25.25C4.87,-26.07 4.67,-26.35 4.36,-26.70C4.04,-27.05 3.75,-27.20 3.34,-27.34C2.93,-27.49 2.37,-27.56 1.89,-27.57C1.40,-27.59 0.75,-27.40 0.44,-27.43C0.12,-27.45 0.00,-27.72 0.00,-27.72Z"/>
<text x="466.8" y="213.2" font-size="64">/d</text>
<text transform="translate(520.17,213.2) scale(1,1.04)" font-size="64">T= 0.0006</text>
<text x="376.8" y="549.5" font-size="64">d</text>
<path transform="translate(413.4,549.5)" d="M0.00,-27.72C0.00,-27.72 0.80,-28.23 1.31,-28.45C1.82,-28.66 2.42,-28.88 3.05,-29.03C3.68,-29.17 4.62,-29.15 5.08,-29.32C5.54,-29.49 5.57,-29.86 5.81,-30.04C6.05,-30.22 6.13,-30.34 6.54,-30.39C6.95,-30.44 8.28,-30.33 8.28,-30.33C8.28,-30.33 8.96,-29.20 9.44,-28.15C9.93,-27.11 10.31,-26.22 11.19,-24.09C12.06,-21.96 13.55,-18.15 14.67,-15.37C15.80,-12.59 17.93,-7.38 17.93,-7.38C17.93,-7.38 19.09,-9.15 19.90,-10.43C20.72,-11.71 22.03,-13.82 22.81,-15.08C23.58,-16.34 24.13,-17.07 24.55,-17.99C24.98,-18.91 25.27,-19.78 25.37,-20.60C25.46,-21.42 25.25,-22.15 25.13,-22.92C25.01,-23.70 24.74,-24.57 24.64,-25.25C24.54,-25.93 24.47,-26.39 24.55,-26.99C24.63,-27.60 24.82,-28.37 25.13,-28.88C25.45,-29.39 25.96,-29.79 26.44,-30.04C26.92,-30.30 27.46,-30.41 28.04,-30.39C28.62,-30.38 29.39,-30.28 29.93,-29.96C30.46,-29.63 30.94,-29.04 31.23,-28.45C31.53,-27.85 31.67,-27.19 31.67,-26.41C31.67,-25.64 31.53,-24.81 31.23,-23.80C30.94,-22.78 30.56,-21.67 29.93,-20.31C29.30,-18.95 28.45,-17.40 27.46,-15.66C26.46,-13.92 25.23,-11.88 23.97,-9.85C22.71,-7.82 21.11,-5.35 19.90,-3.46C18.69,-1.57 16.71,1.48 16.71,1.48C16.71,1.48 15.54,1.63 15.54,1.63C15.54,1.63 15.25,2.04 14.82,1.05C14.38,0.05 13.63,-2.42 12.93,-4.33C12.23,-6.24 11.38,-8.40 10.61,-10.43C9.83,-12.46 8.96,-14.64 8.28,-16.53C7.60,-18.42 7.05,-20.31 6.54,-21.76C6.03,-23.22 5.59,-24.43 5.23,-25.25C4.87,-26.07 4.67,-26.35 4.36,-26.70C4.04,-27.05 3.75,-27.20 3.34,-27.34C2.93,-27.49 2.37,-27.56 1.89,-27.57C1.40,-27.59 0.75,-27.40 0.44,-27.43C0.12,-27.45 0.00,-27.72 0.00,-27.72Z"/>
<text x="446.8" y="549.5" font-size="64">/d</text>
<text transform="translate(500.18,549.5) scale(1,1.04)" font-size="64">T= 0.02<tspan dx="2.12">1</tspan><tspan dx="-2.12">(</tspan>8)</text>
<rect transform="translate(500.18,549.5) scale(1,1.04)" x="224.51" y="-6.08" width="12.52" height="7.38" fill="#fff"/><rect transform="translate(500.18,549.5) scale(1,1.04)" x="242.68" y="-6.08" width="12.02" height="7.38" fill="#fff"/>
<text x="1396.8" y="627.8" font-size="64">d</text>
<path transform="translate(1433.4,627.8)" d="M0.00,-27.72C0.00,-27.72 0.80,-28.23 1.31,-28.45C1.82,-28.66 2.42,-28.88 3.05,-29.03C3.68,-29.17 4.62,-29.15 5.08,-29.32C5.54,-29.49 5.57,-29.86 5.81,-30.04C6.05,-30.22 6.13,-30.34 6.54,-30.39C6.95,-30.44 8.28,-30.33 8.28,-30.33C8.28,-30.33 8.96,-29.20 9.44,-28.15C9.93,-27.11 10.31,-26.22 11.19,-24.09C12.06,-21.96 13.55,-18.15 14.67,-15.37C15.80,-12.59 17.93,-7.38 17.93,-7.38C17.93,-7.38 19.09,-9.15 19.90,-10.43C20.72,-11.71 22.03,-13.82 22.81,-15.08C23.58,-16.34 24.13,-17.07 24.55,-17.99C24.98,-18.91 25.27,-19.78 25.37,-20.60C25.46,-21.42 25.25,-22.15 25.13,-22.92C25.01,-23.70 24.74,-24.57 24.64,-25.25C24.54,-25.93 24.47,-26.39 24.55,-26.99C24.63,-27.60 24.82,-28.37 25.13,-28.88C25.45,-29.39 25.96,-29.79 26.44,-30.04C26.92,-30.30 27.46,-30.41 28.04,-30.39C28.62,-30.38 29.39,-30.28 29.93,-29.96C30.46,-29.63 30.94,-29.04 31.23,-28.45C31.53,-27.85 31.67,-27.19 31.67,-26.41C31.67,-25.64 31.53,-24.81 31.23,-23.80C30.94,-22.78 30.56,-21.67 29.93,-20.31C29.30,-18.95 28.45,-17.40 27.46,-15.66C26.46,-13.92 25.23,-11.88 23.97,-9.85C22.71,-7.82 21.11,-5.35 19.90,-3.46C18.69,-1.57 16.71,1.48 16.71,1.48C16.71,1.48 15.54,1.63 15.54,1.63C15.54,1.63 15.25,2.04 14.82,1.05C14.38,0.05 13.63,-2.42 12.93,-4.33C12.23,-6.24 11.38,-8.40 10.61,-10.43C9.83,-12.46 8.96,-14.64 8.28,-16.53C7.60,-18.42 7.05,-20.31 6.54,-21.76C6.03,-23.22 5.59,-24.43 5.23,-25.25C4.87,-26.07 4.67,-26.35 4.36,-26.70C4.04,-27.05 3.75,-27.20 3.34,-27.34C2.93,-27.49 2.37,-27.56 1.89,-27.57C1.40,-27.59 0.75,-27.40 0.44,-27.43C0.12,-27.45 0.00,-27.72 0.00,-27.72Z"/>
<text x="1466.8" y="627.8" font-size="64">/d</text>
<text transform="translate(1520.17,627.8) scale(1,1.04)" font-size="64">T= -0.03<tspan dx="2.12">1</tspan><tspan dx="-2.12">(</tspan>2)</text>
<rect transform="translate(1520.17,627.8) scale(1,1.04)" x="245.82" y="-6.08" width="12.52" height="7.38" fill="#fff"/><rect transform="translate(1520.17,627.8) scale(1,1.04)" x="263.99" y="-6.08" width="12.02" height="7.38" fill="#fff"/>
<text x="396.8" y="986" font-size="64">d</text>
<path transform="translate(433.4,986)" d="M0.00,-27.72C0.00,-27.72 0.80,-28.23 1.31,-28.45C1.82,-28.66 2.42,-28.88 3.05,-29.03C3.68,-29.17 4.62,-29.15 5.08,-29.32C5.54,-29.49 5.57,-29.86 5.81,-30.04C6.05,-30.22 6.13,-30.34 6.54,-30.39C6.95,-30.44 8.28,-30.33 8.28,-30.33C8.28,-30.33 8.96,-29.20 9.44,-28.15C9.93,-27.11 10.31,-26.22 11.19,-24.09C12.06,-21.96 13.55,-18.15 14.67,-15.37C15.80,-12.59 17.93,-7.38 17.93,-7.38C17.93,-7.38 19.09,-9.15 19.90,-10.43C20.72,-11.71 22.03,-13.82 22.81,-15.08C23.58,-16.34 24.13,-17.07 24.55,-17.99C24.98,-18.91 25.27,-19.78 25.37,-20.60C25.46,-21.42 25.25,-22.15 25.13,-22.92C25.01,-23.70 24.74,-24.57 24.64,-25.25C24.54,-25.93 24.47,-26.39 24.55,-26.99C24.63,-27.60 24.82,-28.37 25.13,-28.88C25.45,-29.39 25.96,-29.79 26.44,-30.04C26.92,-30.30 27.46,-30.41 28.04,-30.39C28.62,-30.38 29.39,-30.28 29.93,-29.96C30.46,-29.63 30.94,-29.04 31.23,-28.45C31.53,-27.85 31.67,-27.19 31.67,-26.41C31.67,-25.64 31.53,-24.81 31.23,-23.80C30.94,-22.78 30.56,-21.67 29.93,-20.31C29.30,-18.95 28.45,-17.40 27.46,-15.66C26.46,-13.92 25.23,-11.88 23.97,-9.85C22.71,-7.82 21.11,-5.35 19.90,-3.46C18.69,-1.57 16.71,1.48 16.71,1.48C16.71,1.48 15.54,1.63 15.54,1.63C15.54,1.63 15.25,2.04 14.82,1.05C14.38,0.05 13.63,-2.42 12.93,-4.33C12.23,-6.24 11.38,-8.40 10.61,-10.43C9.83,-12.46 8.96,-14.64 8.28,-16.53C7.60,-18.42 7.05,-20.31 6.54,-21.76C6.03,-23.22 5.59,-24.43 5.23,-25.25C4.87,-26.07 4.67,-26.35 4.36,-26.70C4.04,-27.05 3.75,-27.20 3.34,-27.34C2.93,-27.49 2.37,-27.56 1.89,-27.57C1.40,-27.59 0.75,-27.40 0.44,-27.43C0.12,-27.45 0.00,-27.72 0.00,-27.72Z"/>
<text x="466.8" y="986" font-size="64">/d</text>
<text transform="translate(520.17,986) scale(1,1.04)" font-size="64">T= 0.06(<tspan dx="2.12">1</tspan><tspan dx="-2.12">)</tspan></text>
<rect transform="translate(520.17,986) scale(1,1.04)" x="245.82" y="-6.08" width="12.52" height="7.38" fill="#fff"/><rect transform="translate(520.17,986) scale(1,1.04)" x="263.99" y="-6.08" width="12.02" height="7.38" fill="#fff"/>
<text transform="translate(1803.4,211.5) scale(1,1.04)" font-size="72">NAD<tspan dx="2.39">1</tspan></text>
<rect transform="translate(1803.4,211.5) scale(1,1.04)" x="158.59" y="-6.68" width="13.92" height="7.98" fill="#fff"/><rect transform="translate(1803.4,211.5) scale(1,1.04)" x="178.87" y="-6.68" width="13.36" height="7.98" fill="#fff"/>
<g transform="translate(87.9,1000.5) rotate(-90)">
<path transform="scale(1.13,1.198)" d="M0.00,-27.72C0.00,-27.72 0.80,-28.23 1.31,-28.45C1.82,-28.66 2.42,-28.88 3.05,-29.03C3.68,-29.17 4.62,-29.15 5.08,-29.32C5.54,-29.49 5.57,-29.86 5.81,-30.04C6.05,-30.22 6.13,-30.34 6.54,-30.39C6.95,-30.44 8.28,-30.33 8.28,-30.33C8.28,-30.33 8.96,-29.20 9.44,-28.15C9.93,-27.11 10.31,-26.22 11.19,-24.09C12.06,-21.96 13.55,-18.15 14.67,-15.37C15.80,-12.59 17.93,-7.38 17.93,-7.38C17.93,-7.38 19.09,-9.15 19.90,-10.43C20.72,-11.71 22.03,-13.82 22.81,-15.08C23.58,-16.34 24.13,-17.07 24.55,-17.99C24.98,-18.91 25.27,-19.78 25.37,-20.60C25.46,-21.42 25.25,-22.15 25.13,-22.92C25.01,-23.70 24.74,-24.57 24.64,-25.25C24.54,-25.93 24.47,-26.39 24.55,-26.99C24.63,-27.60 24.82,-28.37 25.13,-28.88C25.45,-29.39 25.96,-29.79 26.44,-30.04C26.92,-30.30 27.46,-30.41 28.04,-30.39C28.62,-30.38 29.39,-30.28 29.93,-29.96C30.46,-29.63 30.94,-29.04 31.23,-28.45C31.53,-27.85 31.67,-27.19 31.67,-26.41C31.67,-25.64 31.53,-24.81 31.23,-23.80C30.94,-22.78 30.56,-21.67 29.93,-20.31C29.30,-18.95 28.45,-17.40 27.46,-15.66C26.46,-13.92 25.23,-11.88 23.97,-9.85C22.71,-7.82 21.11,-5.35 19.90,-3.46C18.69,-1.57 16.71,1.48 16.71,1.48C16.71,1.48 15.54,1.63 15.54,1.63C15.54,1.63 15.25,2.04 14.82,1.05C14.38,0.05 13.63,-2.42 12.93,-4.33C12.23,-6.24 11.38,-8.40 10.61,-10.43C9.83,-12.46 8.96,-14.64 8.28,-16.53C7.60,-18.42 7.05,-20.31 6.54,-21.76C6.03,-23.22 5.59,-24.43 5.23,-25.25C4.87,-26.07 4.67,-26.35 4.36,-26.70C4.04,-27.05 3.75,-27.20 3.34,-27.34C2.93,-27.49 2.37,-27.56 1.89,-27.57C1.40,-27.59 0.75,-27.40 0.44,-27.43C0.12,-27.45 0.00,-27.72 0.00,-27.72Z"/>
<text transform="translate(38.6,21.3) scale(0.91,1)" x="0" y="0" font-size="56" font-family="'Liberation Serif', serif">3</text>
<text x="88.6" y="0" font-size="80" letter-spacing="0.2">peak centre (cm<tspan font-size="54" dy="-31.7">-<tspan dx="1.8">1</tspan></tspan><tspan dy="31.7" dx="-1.8">)</tspan></text>
<rect x="687.96" y="-37.03" width="10.77" height="6.63" fill="#fff"/><rect x="703.50" y="-37.03" width="10.34" height="6.63" fill="#fff"/>
</g>
<g transform="translate(126.1,2355.1) rotate(-90)">
<path transform="scale(1.13,1.198)" d="M0.00,-27.72C0.00,-27.72 0.80,-28.23 1.31,-28.45C1.82,-28.66 2.42,-28.88 3.05,-29.03C3.68,-29.17 4.62,-29.15 5.08,-29.32C5.54,-29.49 5.57,-29.86 5.81,-30.04C6.05,-30.22 6.13,-30.34 6.54,-30.39C6.95,-30.44 8.28,-30.33 8.28,-30.33C8.28,-30.33 8.96,-29.20 9.44,-28.15C9.93,-27.11 10.31,-26.22 11.19,-24.09C12.06,-21.96 13.55,-18.15 14.67,-15.37C15.80,-12.59 17.93,-7.38 17.93,-7.38C17.93,-7.38 19.09,-9.15 19.90,-10.43C20.72,-11.71 22.03,-13.82 22.81,-15.08C23.58,-16.34 24.13,-17.07 24.55,-17.99C24.98,-18.91 25.27,-19.78 25.37,-20.60C25.46,-21.42 25.25,-22.15 25.13,-22.92C25.01,-23.70 24.74,-24.57 24.64,-25.25C24.54,-25.93 24.47,-26.39 24.55,-26.99C24.63,-27.60 24.82,-28.37 25.13,-28.88C25.45,-29.39 25.96,-29.79 26.44,-30.04C26.92,-30.30 27.46,-30.41 28.04,-30.39C28.62,-30.38 29.39,-30.28 29.93,-29.96C30.46,-29.63 30.94,-29.04 31.23,-28.45C31.53,-27.85 31.67,-27.19 31.67,-26.41C31.67,-25.64 31.53,-24.81 31.23,-23.80C30.94,-22.78 30.56,-21.67 29.93,-20.31C29.30,-18.95 28.45,-17.40 27.46,-15.66C26.46,-13.92 25.23,-11.88 23.97,-9.85C22.71,-7.82 21.11,-5.35 19.90,-3.46C18.69,-1.57 16.71,1.48 16.71,1.48C16.71,1.48 15.54,1.63 15.54,1.63C15.54,1.63 15.25,2.04 14.82,1.05C14.38,0.05 13.63,-2.42 12.93,-4.33C12.23,-6.24 11.38,-8.40 10.61,-10.43C9.83,-12.46 8.96,-14.64 8.28,-16.53C7.60,-18.42 7.05,-20.31 6.54,-21.76C6.03,-23.22 5.59,-24.43 5.23,-25.25C4.87,-26.07 4.67,-26.35 4.36,-26.70C4.04,-27.05 3.75,-27.20 3.34,-27.34C2.93,-27.49 2.37,-27.56 1.89,-27.57C1.40,-27.59 0.75,-27.40 0.44,-27.43C0.12,-27.45 0.00,-27.72 0.00,-27.72Z"/>
<text transform="translate(38.6,21.3) scale(0.91,1)" x="0" y="0" font-size="56" font-family="'Liberation Serif', serif">3</text>
<text x="88.6" y="0" font-size="80" letter-spacing="-0.27">integral absobance (cm<tspan font-size="54" dy="-31.7">-<tspan dx="1.8">1</tspan></tspan><tspan dy="31.7" dx="-1.8">)</tspan></text>
<rect x="936.56" y="-37.03" width="10.77" height="6.63" fill="#fff"/><rect x="952.10" y="-37.03" width="10.34" height="6.63" fill="#fff"/>
</g>
</g>
</svg>
</body></html>
